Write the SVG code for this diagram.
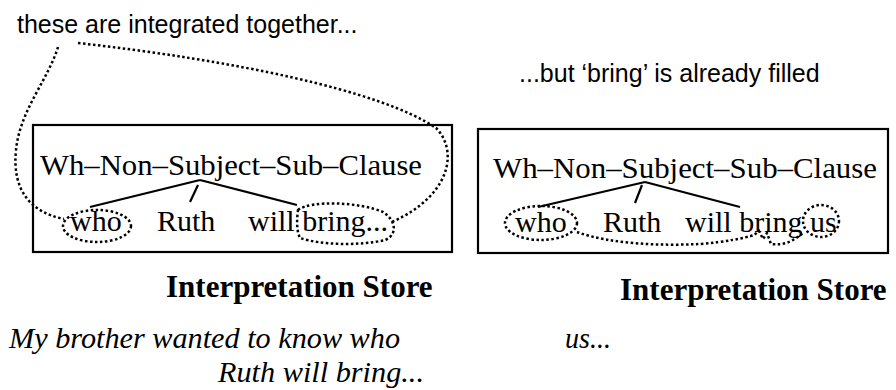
<svg xmlns="http://www.w3.org/2000/svg" width="896" height="390" viewBox="0 0 896 390">
<style>
.box{fill:none;stroke:#000;stroke-width:2.2}
.tree{fill:none;stroke:#000;stroke-width:2.2}
.dot{fill:none;stroke:#000;stroke-width:2.5;stroke-dasharray:2.5 2.5}
.serif{font-family:"Liberation Serif","Times New Roman",serif;font-size:30px;fill:#000}
.bold{font-family:"Liberation Serif","Times New Roman",serif;font-size:31px;font-weight:bold;fill:#000}
.ital{font-family:"Liberation Serif","Times New Roman",serif;font-size:30px;font-style:italic;fill:#000}
.sans{font-family:"Liberation Sans",Arial,sans-serif;font-size:25px;fill:#000}
</style>
<rect width="896" height="390" fill="#fff"/>
<g id="caption-left">
<text class="sans" x="17" y="33">these are integrated together...</text>
</g>
<g id="caption-right">
<text class="sans" x="519" y="82">...but  ‘bring’ is already filled</text>
</g>
<g id="store-left">
<rect class="box" x="33" y="125" width="419" height="127"/>
<text class="serif" x="40" y="175" textLength="382" lengthAdjust="spacingAndGlyphs">Wh–Non–Subject–Sub–Clause</text>
<text class="serif" x="70" y="231">who</text>
<text class="serif" x="157" y="231">Ruth</text>
<text class="serif" x="248" y="231">will bring...</text>
<text class="bold" x="166" y="297">Interpretation Store</text>
</g>
<g id="store-right">
<rect class="box" x="478" y="129" width="410" height="124"/>
<text class="serif" x="493" y="178" textLength="384" lengthAdjust="spacingAndGlyphs">Wh–Non–Subject–Sub–Clause</text>
<text class="serif" x="515" y="232">who</text>
<text class="serif" x="603" y="232">Ruth</text>
<text class="serif" x="685" y="232">will bring us</text>
<text class="bold" x="620" y="300">Interpretation Store</text>
</g>
<g id="sentence-left">
<text class="ital" x="9" y="348" textLength="391" lengthAdjust="spacingAndGlyphs">My brother wanted to know who</text>
<text class="ital" x="218" y="382" textLength="206" lengthAdjust="spacingAndGlyphs">Ruth will bring...</text>
</g>
<g id="sentence-right">
<text class="ital" x="565" y="348" textLength="46" lengthAdjust="spacingAndGlyphs">us...</text>
</g>
<g id="connectors">
<path class="tree" d="M200,180 L90,207 M200,180 L297,205 M198,185 L190,202"/>
<path class="tree" d="M645,182 L538,207 M645,182 L740,207 M642,185 L635,203"/>
<ellipse class="dot" cx="97" cy="226" rx="34" ry="16"/>
<path class="dot" d="M298,210 C310,200 360,202 383,212 C396,220 398,235 385,240 C360,246 320,245 300,238 C296,230 297,218 298,210 Z"/>
<path class="dot" d="M58,47 C48,80 20,110 16,150 C12,190 30,212 64,219"/>
<path class="dot" d="M78,43 C230,60 380,90 436,128 C458,150 452,195 392,222"/>
<ellipse class="dot" cx="541" cy="223" rx="36" ry="17"/>
<ellipse class="dot" cx="821" cy="221" rx="18" ry="16"/>
<path class="dot" d="M577,232 C610,244 660,246 700,244 C725,242 745,238 754,235 L759,231 L763,239 L767,233 L771,244 C785,246 795,240 804,232"/>
</g>
</svg>
